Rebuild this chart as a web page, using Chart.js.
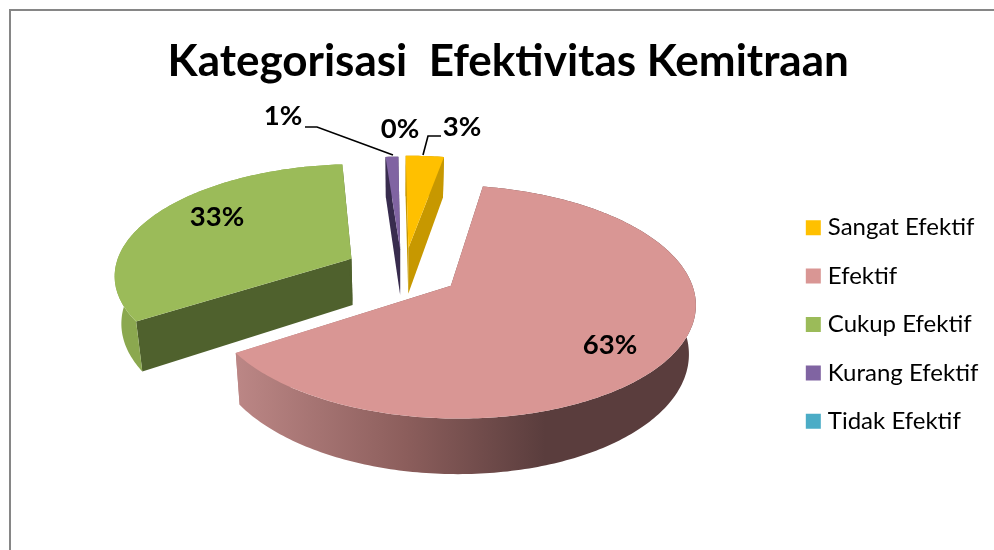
<!DOCTYPE html>
<html>
<head>
<meta charset="utf-8">
<script src="https://cdn.jsdelivr.net/npm/chart.js@4"></script>
<style>
  html, body { margin:0; padding:0; background:#fff; }
  #wrap { width:994px; height:550px; }
</style>
</head>
<body>
<div id="wrap"><canvas id="pie" width="994" height="550"></canvas></div>
<script>
const categories = ['Sangat Efektif', 'Efektif', 'Cukup Efektif', 'Kurang Efektif', 'Tidak Efektif']
const percentages = [3, 63, 33, 1, 0]
const sliceColors = ['#FFC000', '#D99694', '#9BBB59', '#8064A2', '#4BACC6']
const wallColors = ['#C79800', '#5A3D3D', '#4F612D', '#382C4E', '#2F7A8E']
const explode = [49, 60, 55, 46, 0]
const sideShift = [4.5, 0, 0, 2, 0]

// percent labels, [x, y] of the text centre
const labelSpots = [[462, 127], [610, 345], [217, 217], [283, 116], [400, 129]]
const leaders = [
  [[441, 136], [428, 136], [423, 155]],
  [[305, 127], [317, 127], [393, 155]]
]

// fake perspective of the 3d pie
const anchorX = 400, anchorY = 270
const tilt = 0.465, persp = 0.00057, thickness = 47, lean = 0.0005

function project(u, v, z) {
  const s = 1 / (1 - persp * v)
  const q = 1 - z * lean
  return [anchorX + u * s * q, anchorY + tilt * v * s + z * s]
}

function tracePath(ctx, pts) {
  ctx.beginPath()
  pts.forEach((p, i) => i ? ctx.lineTo(p[0], p[1]) : ctx.moveTo(p[0], p[1]))
  ctx.closePath()
}

function arcPoints(arc, i, z) {
  const mid = (arc.startAngle + arc.endAngle) / 2
  const off = arc.options.offset
  const ox = Math.cos(mid) * off + sideShift[i], oy = Math.sin(mid) * off
  const steps = Math.max(2, Math.ceil((arc.endAngle - arc.startAngle) * 60))
  const pts = []
  for (let k = 0; k <= steps; k++) {
    const a = arc.startAngle + (arc.endAngle - arc.startAngle) * k / steps
    pts.push(project(ox + Math.cos(a) * arc.outerRadius, oy + Math.sin(a) * arc.outerRadius, z))
  }
  return { pts, apex: project(ox, oy, z) }
}

function wallFill(ctx, i, kind) {
  if (i === 1) {
    const g = ctx.createLinearGradient(235, 0, 545, 0)
    g.addColorStop(0, '#BC8786')
    g.addColorStop(0.55, '#8C5E5C')
    g.addColorStop(1, wallColors[1])
    return g
  }
  if (i === 2 && kind === 'outer') return '#8BA84F'
  return wallColors[i]
}

const pie3d = {
  id: 'pie3d',
  beforeDraw(chart) {
    const ctx = chart.ctx
    ctx.save()
    ctx.strokeStyle = '#868686'
    ctx.lineWidth = 2
    ctx.strokeRect(10, 10, 1100, 700)
    ctx.restore()
  },
  beforeDatasetsDraw(chart) {
    const ctx = chart.ctx
    const arcs = chart.getDatasetMeta(0).data
    ctx.save()
    ;[2, 3, 0, 1].forEach(i => {
      const arc = arcs[i]
      const top = arcPoints(arc, i, 0)
      const low = arcPoints(arc, i, thickness)
      // cut faces
      ctx.fillStyle = wallFill(ctx, i, 'cut')
      tracePath(ctx, [top.apex, top.pts[0], low.pts[0], low.apex])
      ctx.fill()
      tracePath(ctx, [top.apex, top.pts[top.pts.length - 1], low.pts[low.pts.length - 1], low.apex])
      ctx.fill()
      // outer wall
      ctx.fillStyle = wallFill(ctx, i, 'outer')
      tracePath(ctx, top.pts.concat(low.pts.slice().reverse()))
      ctx.fill()
      // top face
      ctx.fillStyle = sliceColors[i]
      tracePath(ctx, [top.apex].concat(top.pts))
      ctx.fill()
    })

    ctx.strokeStyle = '#000'
    ctx.lineWidth = 1.6
    leaders.forEach(line => {
      ctx.beginPath()
      line.forEach((p, i) => i ? ctx.lineTo(p[0], p[1]) : ctx.moveTo(p[0], p[1]))
      ctx.stroke()
    })

    ctx.fillStyle = '#000'
    ctx.font = 'bold 27.5px Lato'
    ctx.textAlign = 'center'
    ctx.textBaseline = 'middle'
    percentages.forEach((v, i) => ctx.fillText(v + '%', labelSpots[i][0], labelSpots[i][1]))
    ctx.restore()
    return false
  }
}

new Chart(document.getElementById('pie'), {
  type: 'pie',
  data: {
    labels: categories,
    // the thick border only fattens the legend swatches, the slices are painted by pie3d
    datasets: [{ data: percentages, backgroundColor: sliceColors, borderColor: sliceColors, borderWidth: 10, offset: explode }]
  },
  options: {
    responsive: false,
    animation: false,
    rotation: -0.5,
    radius: 237,
    layout: { padding: { left: 28, top: 18, right: 5.6, bottom: 0 } },
    plugins: {
      tooltip: { enabled: false },
      title: {
        display: true,
        text: 'Kategorisasi  Efektivitas Kemitraan',
        color: '#000',
        font: { family: 'Lato', size: 44, weight: 'bold' },
        padding: { top: 17.6, bottom: 10.6 }
      },
      legend: {
        position: 'right',
        fullSize: false,
        labels: {
          color: '#000',
          font: { family: 'Lato', size: 24 },
          boxWidth: 5,
          boxHeight: 5,
          padding: 24.4
        }
      }
    }
  },
  plugins: [pie3d]
})
</script>
</body>
</html>
